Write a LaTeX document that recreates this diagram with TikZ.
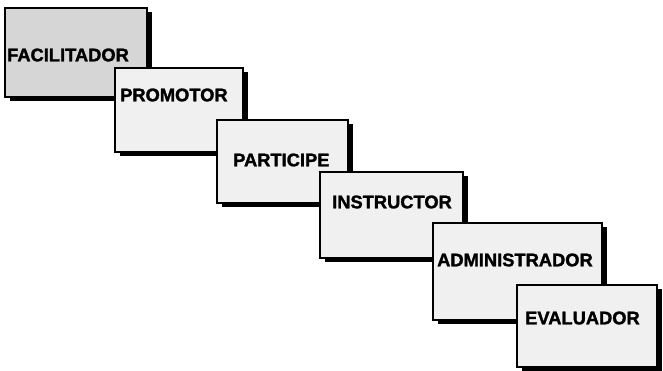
\documentclass[tikz,border=0pt]{standalone}
\usepackage{fontspec}
\setmainfont{Liberation Sans}
\newfontface\heavyfont{Liberation Sans Bold}[FakeBold=1.6]
\usetikzlibrary{shadows}
\begin{document}
\begin{tikzpicture}[x=1pt,y=-1pt,
  rolebox/.style={draw=black, line width=1.6pt, fill=gray!12, rectangle, inner sep=0pt,
    drop shadow={shadow xshift=5pt, shadow yshift=-3.5pt, fill=black, opacity=1}},
  darkbox/.style={rolebox, fill=gray!32},
  rolelabel/.style={anchor=west, inner sep=0pt, font=\fontsize{18.3}{20}\heavyfont}]
\useasboundingbox (0,0) rectangle (663,370);
\node[darkbox, minimum width=142pt, minimum height=89pt] (b1) at (76,52.5) {};
\node[rolelabel] (t1) at (7,55) {FACILITADOR};
\node[rolebox, minimum width=128pt, minimum height=84pt] (b2) at (179,110) {};
\node[rolelabel] (t2) at (120,95) {PROMOTOR};
\node[rolebox, minimum width=131pt, minimum height=83pt] (b3) at (282.5,161.5) {};
\node[rolelabel] (t3) at (233,160) {PARTICIPE};
\node[rolebox, minimum width=143pt, minimum height=86pt] (b4) at (391.5,215) {};
\node[rolelabel] (t4) at (332,202) {INSTRUCTOR};
\node[rolebox, minimum width=169pt, minimum height=97pt] (b5) at (517.5,271.5) {};
\node[rolelabel] (t5) at (437,260) {ADMINISTRADOR};
\node[rolebox, minimum width=140pt, minimum height=82pt] (b6) at (587,326) {};
\node[rolelabel] (t6) at (525,318) {EVALUADOR};
\end{tikzpicture}
\end{document}
